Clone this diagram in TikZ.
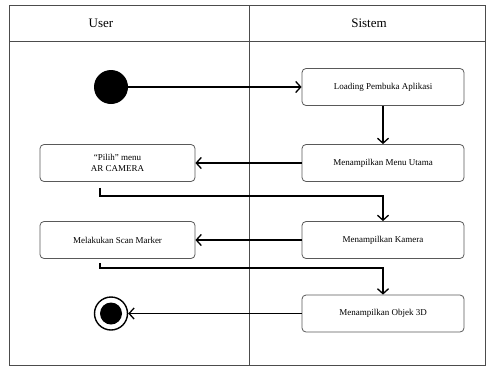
\documentclass[tikz,border=0pt]{standalone}
\usepackage{fontspec}
\setmainfont{Liberation Serif}
\usetikzlibrary{arrows.meta, positioning}

\begin{document}
\begin{tikzpicture}[
        x=1pt, y=-1pt,
        >={Straight Barb[length=5pt, width=11pt, line width=1.3pt]},
        every node/.style={font=\fontsize{9}{11}\selectfont},
        action/.style={draw=black!65, rounded corners=4pt, minimum width=162pt, minimum height=37pt, align=center, line width=0.8pt},
        useraction/.style={action, minimum width=155pt},
        lane/.style={draw=black!70, line width=0.8pt},
        header/.style={font=\fontsize{13}{15}\selectfont},
        initial/.style={circle, fill=black, minimum size=34pt, inner sep=0pt},
        final/.style={circle, draw=black, line width=1.4pt, minimum size=33pt, inner sep=0pt},
        flow/.style={->, line width=1.3pt},
    ]
    \useasboundingbox (0,0) rectangle (486,367);

    %% ===== Swimlanes =====
    \draw[lane] (9,5) rectangle (485,365);
    \draw[lane] (9,41) -- (485,41);
    \draw[lane] (249,5) -- (249,365);
    \node[header] (hUser) at (101,23) {User};
    \node[header] (hSistem) at (369,23) {Sistem};

    %% ===== Sistem lane =====
    \node[action] (loading) at (383,87) {Loading Pembuka Aplikasi};
    \node[action] (menu) at (383,163) {Menampilkan Menu Utama};
    \node[action] (kamera) at (383,240) {Menampilkan Kamera};
    \node[action] (objek) at (383,313.5) {Menampilkan Objek 3D};

    %% ===== User lane =====
    \node[initial] (start) at (111,87) {};
    \node[useraction] (pilih) at (117.5,163) {``Pilih'' menu\\AR CAMERA};
    \node[useraction] (scan) at (117.5,240) {Melakukan Scan Marker};
    \node[final] (stop) at (111,313.5) {};
    \fill (stop.center) circle (11pt);

    %% ===== Flow =====
    \draw[flow] (start) -- (loading);
    \draw[flow] (loading) -- (menu);
    \draw[flow] (menu) -- (pilih);
    \draw[flow, shorten <=6pt] ([xshift=-17.5pt]pilih.south) -- ++(0,14) -| (kamera.north);
    \draw[flow] (kamera) -- (scan);
    \draw[flow, shorten <=4pt] ([xshift=-17.5pt]scan.south) -- ++(0,9) -| (objek.north);
    \draw[flow] (objek) -- (stop);

\end{tikzpicture}
\end{document}
